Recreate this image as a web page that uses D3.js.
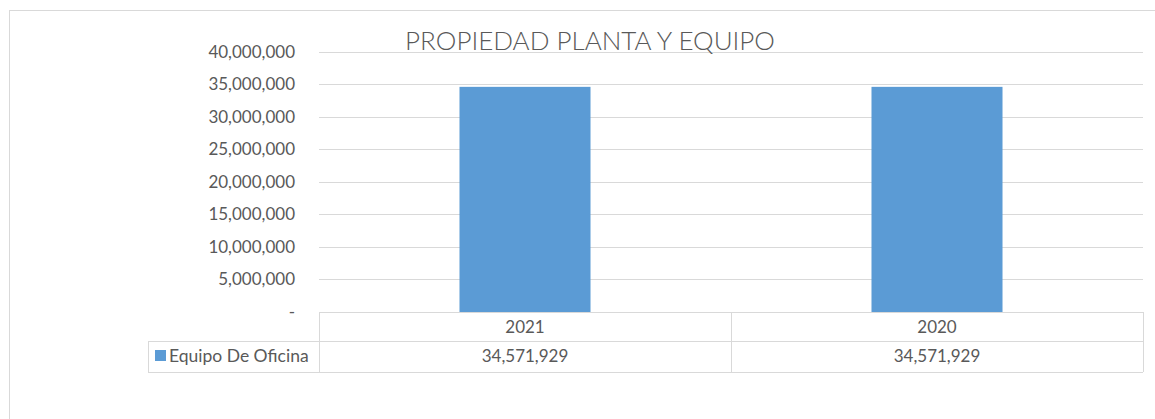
<!DOCTYPE html>
<html>
<head>
<meta charset="utf-8">
<script src="https://cdn.jsdelivr.net/npm/d3@7"></script>
<style>
  body { margin: 0; background: #fff; }
  svg text { font-family: Lato, "Open Sans", sans-serif; fill: #595959; }
</style>
</head>
<body>
<svg id="chart" width="1155" height="419"></svg>
<script>
const categories = ["2021", "2020"];
const seriesName = "Equipo De Oficina";
const values = [34571929, 34571929];
const yTicks = [0, 5000000, 10000000, 15000000, 20000000, 25000000, 30000000, 35000000, 40000000];

const svg = d3.select("#chart");
const plotLeft = 319, plotRight = 1143, plotTop = 51.5, plotBottom = 312;
const rowH = 30;
const legendLeft = 148;

// marco exterior
svg.append("rect")
  .attr("x", 9.5).attr("y", 10.5)
  .attr("width", 1160).attr("height", 430)
  .attr("fill", "none").attr("stroke", "#d9d9d9");

const x = d3.scaleBand().domain(categories).range([plotLeft, plotRight]).paddingInner(0.682).paddingOuter(0.341);
const y = d3.scaleLinear().domain([0, 40000000]).range([plotBottom, plotTop]);

// lineas de cuadricula
svg.append("g").selectAll("line")
  .data(yTicks.slice(1))
  .enter().append("line")
  .attr("x1", plotLeft).attr("x2", plotRight)
  .attr("y1", d => Math.round(y(d)) + 0.5).attr("y2", d => Math.round(y(d)) + 0.5)
  .attr("stroke", "#d9d9d9");

// etiquetas eje y
const fmt = d3.format(",");
svg.append("g").selectAll("text")
  .data(yTicks)
  .enter().append("text")
  .attr("x", 295)
  .attr("y", d => y(d) + 6)
  .attr("text-anchor", "end")
  .attr("font-size", 17)
  .text(d => d === 0 ? "-" : fmt(d));

// barras
svg.append("g").selectAll("rect")
  .data(values)
  .enter().append("rect")
  .attr("x", (d, i) => x(categories[i]))
  .attr("y", d => y(d))
  .attr("width", x.bandwidth())
  .attr("height", d => y(0) - y(d))
  .attr("fill", "#5B9BD5");

// tabla de datos
const tbl = svg.append("g").attr("stroke", "#d9d9d9").attr("fill", "none");
const r1 = plotBottom, r2 = plotBottom + rowH - 1, r3 = plotBottom + 2 * rowH;
tbl.append("line").attr("x1", plotLeft).attr("x2", plotRight).attr("y1", r1 + 0.5).attr("y2", r1 + 0.5);
tbl.append("line").attr("x1", legendLeft).attr("x2", plotRight).attr("y1", r2 + 0.5).attr("y2", r2 + 0.5);
tbl.append("line").attr("x1", legendLeft).attr("x2", plotRight).attr("y1", r3 + 0.5).attr("y2", r3 + 0.5);
tbl.append("line").attr("x1", legendLeft + 0.5).attr("x2", legendLeft + 0.5).attr("y1", r2).attr("y2", r3);
const cellEdges = [plotLeft, plotLeft + x.step(), plotRight];
tbl.selectAll("line.v").data(cellEdges).enter().append("line")
  .attr("x1", d => d + 0.5).attr("x2", d => d + 0.5)
  .attr("y1", r1).attr("y2", r3);

svg.append("g").selectAll("text")
  .data(categories)
  .enter().append("text")
  .attr("x", d => x(d) + x.bandwidth() / 2)
  .attr("y", r1 + 21)
  .attr("text-anchor", "middle")
  .attr("font-size", 17)
  .text(d => d);

svg.append("g").selectAll("text")
  .data(values)
  .enter().append("text")
  .attr("x", (d, i) => x(categories[i]) + x.bandwidth() / 2)
  .attr("y", r2 + 21)
  .attr("text-anchor", "middle")
  .attr("font-size", 17)
  .text(d => fmt(d));

svg.append("rect")
  .attr("x", 155).attr("y", r2 + 9)
  .attr("width", 11).attr("height", 11)
  .attr("fill", "#5B9BD5");
svg.append("text")
  .attr("x", 169).attr("y", r2 + 21)
  .attr("font-size", 17.5)
  .text(seriesName);

// titulo
svg.append("text")
  .attr("x", 590).attr("y", 50)
  .attr("text-anchor", "middle")
  .attr("font-size", 26)
  .attr("font-weight", 300)
  .text("PROPIEDAD PLANTA Y EQUIPO");
</script>
</body>
</html>
